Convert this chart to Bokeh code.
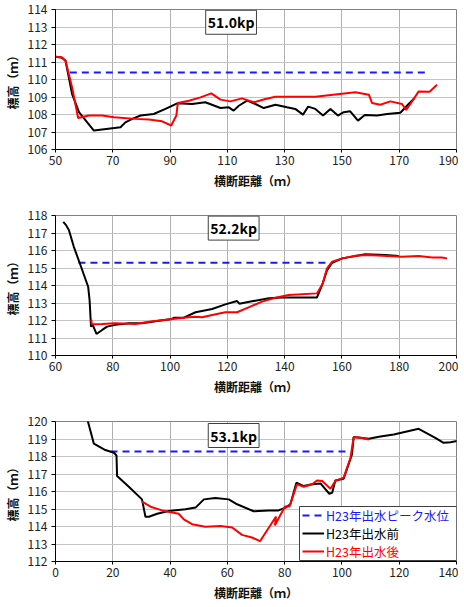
from bokeh.plotting import figure
from bokeh.models import Label, Legend, LegendItem, SingleIntervalTicker, FixedTicker, Range1d, BoxAnnotation
from bokeh.layouts import column
from bokeh.embed import file_html
from bokeh.resources import INLINE

FONT = "Noto Sans CJK JP"

# ---------------- data ----------------
# Panel 1 : 51.0kp
p1_before_x = [50, 52.1, 53.5, 55.8, 58.2, 63.4, 72.7, 74.4, 76.8, 79.7, 84.3, 88.4, 92.5, 97.7,
               102.3, 107.6, 110.5, 112.2, 114.0, 116.9, 119.8, 122.7, 126.8, 130.8, 133.7, 136.4,
               138.2, 140.7, 143.4, 146.0, 148.6, 150.6, 152.9, 155.6, 158.0, 162.3, 165.8, 170.4,
               172.7, 175.4]
p1_before_y = [111.3, 111.26, 111.07, 109.17, 108.13, 107.08, 107.27, 107.55, 107.75, 107.94, 108.03,
               108.32, 108.64, 108.6, 108.7, 108.37, 108.41, 108.22, 108.5, 108.79, 108.6, 108.37,
               108.56, 108.41, 108.32, 107.99, 108.45, 108.32, 107.94, 108.32, 107.94, 108.13, 108.18,
               107.65, 107.97, 107.94, 108.03, 108.1, 108.5, 108.95]
p1_after_x = [50, 52.3, 53.5, 55.8, 57.9, 61.6, 66.3, 70.4, 77.9, 82.6, 87.2, 90.4, 92.2, 92.7, 96.6,
              100.6, 104.4, 107.6, 111.1, 115.1, 119.2, 123.3, 126.8, 140.7, 154.7, 159.4, 160.5,
              163.4, 166.9, 171.0, 172.4, 173.9, 176.8, 180.6, 183.2]
p1_after_y = [111.3, 111.26, 111.07, 109.55, 107.8, 107.94, 107.94, 107.84, 107.75, 107.71, 107.61,
              107.37, 107.94, 108.66, 108.79, 108.98, 109.21, 108.85, 108.75, 108.92, 108.7, 108.89,
              109.02, 109.02, 109.27, 109.13, 108.66, 108.56, 108.75, 108.6, 108.26, 108.6, 109.32,
              109.3, 109.7]
p1_peak_x = [55, 180]
p1_peak_level = 110.4
p1_xticks = [50, 70, 90, 110, 130, 150, 170, 190]

# Panel 2 : 52.2kp
p2_before_x = [62.7, 63.7, 64.7, 66.4, 68.7, 71.4, 71.9, 72.4, 73.0, 74.3, 76.3, 78.0, 80.9, 85.6,
               90.2, 96.1, 100.7, 101.3, 104.8, 108.9, 114.7, 119.3, 123.4, 124.2, 128.1, 134.5,
               139.1, 151.3, 153.1, 154.8, 156.6, 160.1, 168.2, 175.2, 179.8]
p2_before_y = [117.64, 117.45, 117.16, 116.21, 115.17, 113.93, 113.17, 111.65, 111.75, 111.23, 111.46,
               111.65, 111.75, 111.84, 111.84, 111.99, 112.09, 112.16, 112.16, 112.47, 112.66, 112.92,
               113.11, 112.96, 113.08, 113.27, 113.32, 113.32, 114.03, 114.88, 115.3, 115.55, 115.78,
               115.74, 115.68]
p2_after_x = [72.5, 72.7, 76.3, 80.9, 87.9, 92.6, 100.1, 106.5, 108.9, 111.2, 114.7, 119.3, 123.4,
              127.4, 132.1, 136.8, 141.4, 151.3, 153.3, 154.8, 156.6, 160.1, 164.7, 168.8, 174.0,
              181.0, 186.8, 191.5, 194.9, 196.7]
p2_after_y = [112.05, 111.78, 111.8, 111.84, 111.8, 111.93, 112.07, 112.18, 112.22, 112.18, 112.31,
              112.47, 112.47, 112.75, 113.08, 113.3, 113.46, 113.55, 114.12, 114.98, 115.36, 115.55,
              115.7, 115.74, 115.7, 115.64, 115.68, 115.6, 115.6, 115.55]
p2_peak_x = [68, 156]
p2_peak_level = 115.3
p2_xticks = [60, 80, 100, 120, 140, 160, 180, 200]

# Panel 3 : 53.1kp
p3_before_x = [10.5, 13.4, 17.4, 20.4, 21.3, 21.5, 25.6, 30.2, 31.4, 32.6, 35.5, 39.5, 45.4, 48.9,
               51.8, 55.8, 60.5, 63.4, 69.2, 74.5, 77.9, 80.3, 82.0, 84.1, 86.7, 89.6, 92.5, 95.6,
               96.6, 97.7, 100.6, 103.5, 104.1, 109.4, 112.9, 118.1, 126.8, 132.6, 135.5, 137.9, 140.2]
p3_before_y = [120.5, 118.73, 118.37, 118.21, 118.06, 116.88, 116.27, 115.55, 114.56, 114.56, 114.73,
               114.89, 114.98, 115.08, 115.55, 115.63, 115.55, 115.27, 114.87, 114.92, 114.92, 115.08,
               115.27, 116.5, 116.31, 116.41, 116.46, 115.87, 115.93, 116.63, 116.73, 118.12, 119.11,
               119.01, 119.13, 119.26, 119.58, 119.07, 118.78, 118.82, 118.88]
p3_after_x = [30.2, 33.2, 37.2, 43.0, 44.8, 47.7, 52.3, 57.6, 61.7, 65.1, 68.6, 71.4, 77.0, 76.6,
              80.1, 81.7, 84.3, 86.7, 89.6, 91.3, 93.1, 96.0, 97.7, 100.6, 103.0, 104.1, 106.5, 109.4]
p3_after_y = [115.42, 115.13, 114.92, 114.73, 114.41, 114.13, 113.99, 114.03, 113.94, 113.52, 113.37,
              113.16, 114.57, 114.07, 115.14, 115.14, 116.41, 116.27, 116.41, 116.63, 116.6, 116.16,
              116.6, 116.79, 117.93, 119.11, 119.07, 118.97]
p3_peak_x = [19.2, 103]
p3_peak_level = 118.29
p3_xticks = [0, 20, 40, 60, 80, 100, 120, 140]

legend_labels = ["H23年出水ピーク水位", "H23年出水前", "H23年出水後"]
x_title = "横断距離（ｍ）"
y_title = "標高（ｍ）"

BLUE = "#1a1aff"
BLACK = "#000000"
RED = "#ff0000"


def make_panel(xr, yr, xticks, bx, by, ax, ay, peak_x, peak_level, kp, kp_pos,
               top, bottom, with_legend=False):
    p = figure(frame_width=401, frame_height=140, output_backend="svg",
               toolbar_location=None, x_range=Range1d(*xr), y_range=Range1d(*yr),
               min_border_left=45, min_border_right=2, min_border_top=top,
               min_border_bottom=bottom)
    p.background_fill_color = "white"
    p.outline_line_color = "#808080"
    p.outline_line_width = 1
    p.xaxis.ticker = FixedTicker(ticks=xticks)
    p.yaxis.ticker = SingleIntervalTicker(interval=1, num_minor_ticks=0)
    for ax_ in (p.xaxis[0], p.yaxis[0]):
        ax_.axis_line_color = "black"
        ax_.axis_line_width = 1
        ax_.major_tick_line_color = "black"
        ax_.major_tick_in = 0
        ax_.minor_tick_line_color = None
        ax_.major_label_text_font = FONT
        ax_.major_label_text_font_size = "12px"
        ax_.major_label_text_color = "#222222"
        ax_.axis_label_text_font = FONT
        ax_.axis_label_text_font_size = "12px"
        ax_.axis_label_text_font_style = "bold"
        ax_.axis_label_text_color = "#111111"
    p.xaxis.major_tick_out = 3
    p.yaxis.major_tick_out = 4
    p.xaxis.major_label_standoff = 3
    p.yaxis.major_label_standoff = 4
    p.xaxis.axis_label = x_title
    p.yaxis.axis_label = y_title
    p.xaxis.axis_label_standoff = 4
    p.yaxis.axis_label_standoff = 4
    p.xgrid.grid_line_color = "#b0b0b0"
    p.ygrid.grid_line_color = "#c4c4c4"

    r_peak = p.line(peak_x, [peak_level, peak_level], line_color=BLUE, line_width=2,
                    line_dash="7 5")
    r_before = p.line(bx, by, line_color=BLACK, line_width=2)
    r_after = p.line(ax, ay, line_color=RED, line_width=2)

    p.add_layout(Label(x=kp_pos[0], y=kp_pos[1], text=kp, text_align="center",
                       text_baseline="middle", text_font=FONT, text_font_style="bold",
                       text_font_size="14px", text_color="black",
                       border_line_color="#404040", border_line_width=1,
                       background_fill_color="white", padding=2))

    if with_legend:
        box = BoxAnnotation(left=244, right=401, bottom=1, top=55,
                            left_units="screen", right_units="screen",
                            bottom_units="screen", top_units="screen",
                            fill_color="white", fill_alpha=1,
                            line_color="#404040", line_width=1, line_alpha=1)
        p.add_layout(box)
        rends = [r_peak, r_before, r_after]
        cols = [BLUE, BLACK, RED]
        for k, (lab, r, c) in enumerate(zip(legend_labels, rends, cols)):
            lg = Legend(items=[LegendItem(label=lab, renderers=[r])],
                        location=(247, (2 - k) * 18), label_text_color=c,
                        padding=0, spacing=0, margin=0, glyph_width=22, glyph_height=20,
                        label_height=20, label_standoff=2, label_text_font=FONT,
                        label_text_font_size="12.5px",
                        border_line_alpha=0, background_fill_alpha=0)
            p.add_layout(lg)
    return p


p1 = make_panel((50, 190), (106, 114), p1_xticks, p1_before_x, p1_before_y, p1_after_x, p1_after_y,
                p1_peak_x, p1_peak_level, "51.0kp", (111.3, 113.27), 9, 46)
p2 = make_panel((60, 200), (110, 118), p2_xticks, p2_before_x, p2_before_y, p2_after_x, p2_after_y,
                p2_peak_x, p2_peak_level, "52.2kp", (122.2, 117.28), 20, 46)
p3 = make_panel((0, 140), (112, 120), p3_xticks, p3_before_x, p3_before_y, p3_after_x, p3_after_y,
                p3_peak_x, p3_peak_level, "53.1kp", (62.2, 119.2), 20, 38, with_legend=True)

layout = column(p1, p2, p3, spacing=0)
open("out.html", "w").write(file_html(layout, INLINE))
